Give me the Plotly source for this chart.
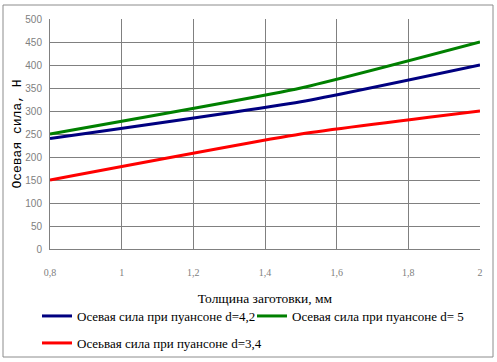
import plotly.graph_objects as go

thickness = [0.8, 1.5, 2.0]
force_d42 = [240, 320, 400]
force_d5 = [250, 350, 450]
force_d34 = [150, 250, 300]

names = ["Осевая сила при пуансоне d=4,2",
         "Осевая сила при пуансоне d= 5",
         "Осеьвая сила при пуансоне d=3,4"]
colors = ["#000080", "#008000", "#FF0000"]
legends = ["legend", "legend2", "legend3"]

fig = go.Figure()
for y, n, c, lg in zip([force_d42, force_d5, force_d34], names, colors, legends):
    fig.add_trace(go.Scatter(x=thickness, y=y, name=n, mode="lines", legend=lg,
                             line=dict(color=c, width=3, shape="spline", smoothing=0.5)))

L, R, T, B = 50, 17, 19, 113
W, H = 497, 362
pw, ph = W - L - R, H - T - B

def px(x):
    return (x - L) / pw

def py(y):
    return 1 - (y - T) / ph

grid = "#808080"
serif = "Liberation Serif, Times New Roman, serif"
legfont = dict(family=serif, size=13, color="black")

def leg(x, y):
    return dict(orientation="h", x=px(x), y=py(y), xanchor="left", yanchor="top",
                font=legfont, bgcolor="rgba(0,0,0,0)")

fig.update_layout(
    width=W, height=H,
    margin=dict(l=L, r=R, t=T, b=B, autoexpand=False),
    paper_bgcolor="white", plot_bgcolor="white",
    separators=", ",
    showlegend=True,
    legend=leg(37, 301),
    legend2=leg(252, 301),
    legend3=leg(37, 328),
    shapes=[dict(type="rect", xref="paper", yref="paper",
                 x0=px(3), x1=px(493), y0=py(357), y1=py(5),
                 line=dict(color="#8c8c8c", width=1), layer="below")],
)
fig.update_xaxes(range=[0.8, 2], dtick=0.2, tick0=0.8, showgrid=True, gridcolor=grid, gridwidth=1,
                 showline=True, linecolor=grid, linewidth=1, zeroline=False, ticks="",
                 ticklabelstandoff=14,
                 tickfont=dict(family=serif, size=10, color="#808080"),
                 title=dict(text="Толщина заготовки, мм", standoff=16,
                            font=dict(family=serif, size=13.5, color="black")))
fig.update_yaxes(range=[0, 500], dtick=50, showgrid=True, gridcolor=grid, gridwidth=1,
                 showline=True, linecolor=grid, linewidth=1, zeroline=False, ticks="",
                 ticklabelstandoff=5,
                 tickfont=dict(family="Liberation Sans", size=10, color="#808080"),
                 title=dict(text="Осевая сила, Н", standoff=0,
                            font=dict(family="Liberation Mono", size=13, color="black")))

fig.write_html("out.html", config={"displayModeBar": False},
               post_script="document.body.style.margin='0';")
